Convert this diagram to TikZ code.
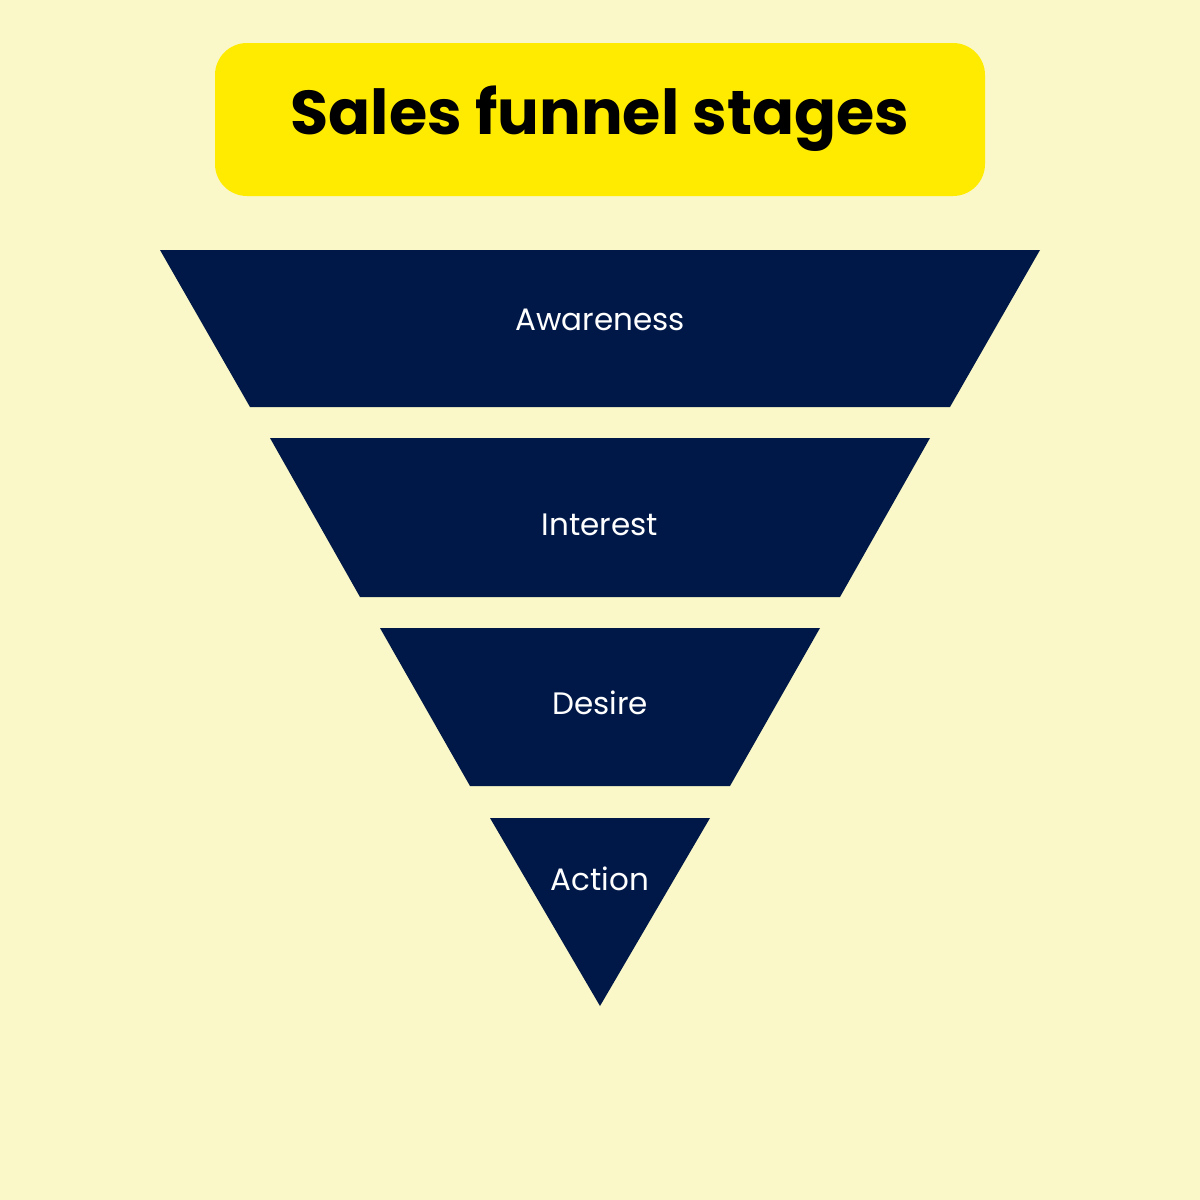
\documentclass[tikz,border=0pt]{standalone}
\usepackage{fontspec}
\setmainfont{Poppins}
\definecolor{bg}{HTML}{FAF8C8}
\definecolor{ttl}{HTML}{FFEB00}
\definecolor{navy}{HTML}{001848}
\begin{document}
\begin{tikzpicture}[x=1pt,y=-1pt,
  stage/.style={fill=navy},
  lbl/.style={text=white,font=\fontsize{31}{36}\selectfont,inner sep=0pt}]
\fill[bg] (0,0) rectangle (1200,1200);
\useasboundingbox (0,0) rectangle (1200,1200);
\fill[ttl,rounded corners=32pt] (215,43) rectangle (985,196);
\node[font=\fontsize{62}{70}\selectfont\bfseries,inner sep=0pt] (title) at (600,119) {Sales funnel stages};
\fill[stage] (160,250) -- (1040,250) -- (950,407) -- (250,407) -- cycle;
\fill[stage] (270,438) -- (930,438) -- (840,597) -- (360,597) -- cycle;
\fill[stage] (380,628) -- (820,628) -- (730,786) -- (470,786) -- cycle;
\fill[stage] (490,818) -- (710,818) -- (600,1006) -- cycle;
\node[lbl] (aw) at (600,320) {Awareness};
\node[lbl] (in) at (600,525) {Interest};
\node[lbl] (de) at (600,703) {Desire};
\node[lbl] (ac) at (600,879) {Action};
\end{tikzpicture}
\end{document}
